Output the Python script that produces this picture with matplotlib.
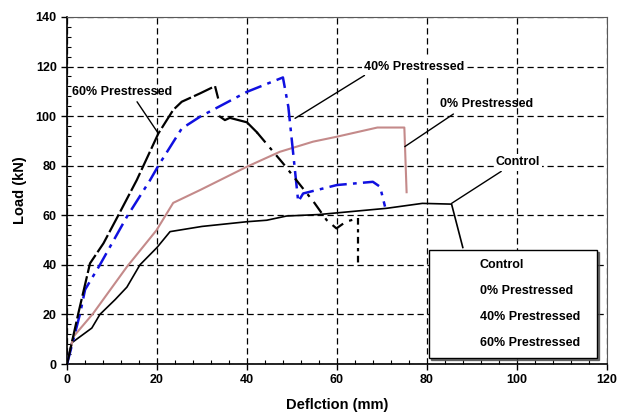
import matplotlib
matplotlib.use("Agg")
import matplotlib.pyplot as plt
from matplotlib.lines import Line2D
from matplotlib.ticker import MultipleLocator

plt.rcParams['font.family'] = ['Liberation Sans', 'DejaVu Sans']
plt.rcParams['font.weight'] = 'bold'

# load-deflection curves (deflection mm, load kN)
control_x = [0, 1, 5.5, 7.3, 10.7, 13.3, 16.2, 20, 22.9, 30, 40, 44.4, 48.8, 56, 71, 79, 85.5, 88]
control_y = [0, 8.5, 14.5, 20, 26, 31, 40, 47, 53.4, 55.5, 57.4, 58, 59.7, 60.3, 62.8, 64.8, 64.5, 47]

p0_x = [0, 1.4, 5.8, 13.3, 19.9, 23.6, 29.6, 40, 47.3, 54.7, 60, 69, 75, 75.5]
p0_y = [0, 11, 20.4, 39.2, 54, 65, 70.2, 79.6, 85.6, 89.7, 91.7, 95.4, 95.4, 69.3]

p40_x = [0, 2.9, 4, 7.3, 13.3, 18.4, 20.3, 25.5, 29.6, 40, 48, 49.2, 51.4, 52.5, 60, 68, 69.6, 70.7]
p40_y = [0, 20.4, 30, 40, 59.4, 74, 80, 95, 99.8, 109.8, 115.6, 103.8, 65.5, 68.8, 72.2, 73.5, 71.5, 63.5]

p60_x = [0, 2.5, 5.1, 8.1, 11.4, 15.5, 20.3, 23.6, 25.5, 29.6, 32.9, 33.6,
         34, 35.1, 36.2, 40, 42.2, 48, 55, 57.7, 59.9, 62, 64.7, 64.7]
p60_y = [0, 20.4, 40.6, 48.7, 60, 74.2, 93, 102.5, 105.8, 109.2, 112.1, 107.1,
         99.8, 98.4, 99.3, 97.5, 93.5, 81, 65, 58.1, 54.7, 57.4, 58.8, 40.5]

legend_labels = ['Control', '0% Prestressed', '40% Prestressed', '60% Prestressed']

fig = plt.figure(figsize=(6.21, 4.12), dpi=100)
ax = fig.add_axes([0.108, 0.1165, 0.869, 0.8423])

ax.plot(control_x, control_y, color='black', lw=1.2, zorder=3)
ax.plot(p0_x, p0_y, color='#c48a8a', lw=1.5, zorder=3)
ax.plot(p40_x, p40_y, color='#1010e0', lw=1.8, dashes=(7, 2.5, 1.5, 2.5), zorder=3)
# 60% curve: dashed up to peak, solid after drop, dash-dot tail
ax.plot(p60_x[:12], p60_y[:12], color='black', lw=1.6, dashes=(9, 1.5), zorder=3)
ax.plot(p60_x[12:17], p60_y[12:17], color='black', lw=1.6, zorder=3)
ax.plot(p60_x[16:-1], p60_y[16:-1], color='black', lw=1.6, dashes=(6, 3, 1.5, 3), zorder=3)
ax.plot(p60_x[-2:], p60_y[-2:], color='black', lw=1.6, dashes=(3, 2, 1.5, 2), zorder=3)

ax.set_xlim(0, 120)
ax.set_ylim(0, 140)
ax.xaxis.set_major_locator(MultipleLocator(20))
ax.yaxis.set_major_locator(MultipleLocator(20))
ax.xaxis.set_minor_locator(MultipleLocator(4))
ax.yaxis.set_minor_locator(MultipleLocator(4))
ax.tick_params(which='major', direction='out', length=4, width=1, labelsize=9)
ax.tick_params(which='minor', direction='in', length=3, width=0.8)
for lab in ax.get_xticklabels() + ax.get_yticklabels():
    lab.set_fontweight('bold')
ax.grid(True, which='major', color='black', linestyle=(0, (5, 3)), lw=0.9, zorder=1)
ax.set_axisbelow(True)
for side in ['top', 'right']:
    ax.spines[side].set_color('0.35')
    ax.spines[side].set_linewidth(0.8)
ax.spines['left'].set_linewidth(1.2)
ax.spines['bottom'].set_linewidth(1.2)

ax.set_xlabel('Deflction (mm)', fontsize=10.5, fontweight='bold', labelpad=8)
ax.set_ylabel('Load (kN)', fontsize=10.5, fontweight='bold', labelpad=6)

# leader-line labels
ann = dict(fontsize=9, fontweight='bold', ha='center', va='center', zorder=5)
line = dict(arrowstyle='-', color='black', lw=1.0, shrinkA=1, shrinkB=0)
ax.annotate('60% Prestressed', xy=(20.3, 93), xytext=(12.3, 109.8),
            arrowprops=dict(line, relpos=(0.62, 0)), **ann)
ax.annotate('40% Prestressed', xy=(50.7, 99.1), xytext=(77.2, 120),
            bbox=dict(fc='white', ec='none', pad=1.5),
            arrowprops=dict(line, relpos=(0.05, 0)), **ann)
ax.annotate('0% Prestressed', xy=(75.1, 87.7), xytext=(93.3, 104.7),
            arrowprops=dict(line, relpos=(0.2, 0)), **ann)
ax.annotate('Control', xy=(85.5, 64.8), xytext=(100.3, 81.3),
            bbox=dict(fc='white', ec='none', pad=1.5),
            arrowprops=dict(line, relpos=(0.22, 0)), **ann)

handles = [Line2D([], [], color='none') for _ in legend_labels]
leg = ax.legend(handles, legend_labels, loc='lower left',
                bbox_to_anchor=(0.670, 0.018, 0.312, 0.3), mode='expand',
                borderaxespad=0, fancybox=False,
                shadow={'ox': 1.5, 'oy': -1.5, 'color': '0.3', 'alpha': 0.8},
                frameon=True, edgecolor='black', framealpha=1,
                prop={'size': 9, 'weight': 'bold'},
                handlelength=2.6, handletextpad=0.8, borderpad=0.7, labelspacing=1.12)
leg.get_frame().set_linewidth(1.0)
leg.set_zorder(6)

fig.savefig('out.png', dpi=100)
